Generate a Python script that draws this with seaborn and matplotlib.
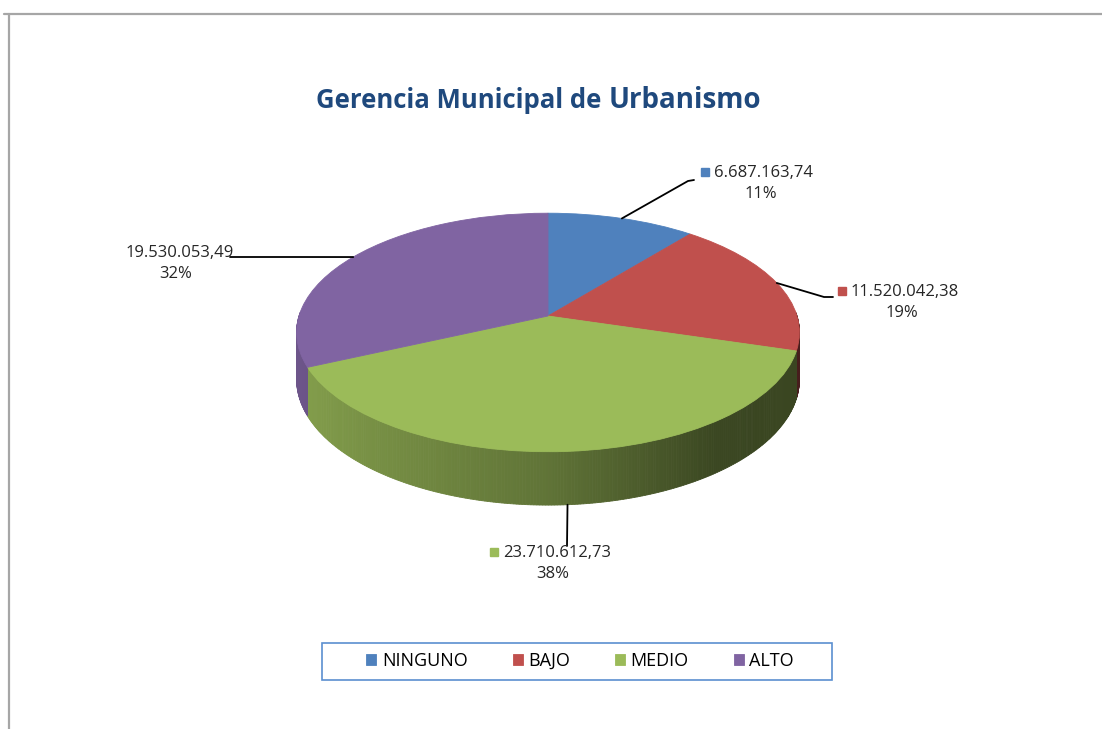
import numpy as np
import matplotlib
matplotlib.use("Agg")
import matplotlib.pyplot as plt
import matplotlib.transforms as mtransforms
from matplotlib.patches import Rectangle
import seaborn as sns

# data
categories = ["NINGUNO", "BAJO", "MEDIO", "ALTO"]
amounts = [6687163.74, 11520042.38, 23710612.73, 19530053.49]
pct_labels = ["11%", "19%", "38%", "32%"]
colors = ["#4F81BD", "#C0504D", "#9BBB59", "#8064A2"]
title_a = "Gerencia Municipal de"
title_b = "Urbanismo"

# canvas in pixels, pie geometry (top face of the tilted disc)
W, H = 1102, 729
CX, CY = 548, 316
RX, RY = 249, 117
TILT = 0.138
DEPTH = 46

sns.set_style("white")
plt.rcParams["font.family"] = ["Open Sans", "DejaVu Sans"]
TXT = "#262626"


def es_fmt(v):
    s = f"{v:,.2f}"
    return s.replace(",", "X").replace(".", ",").replace("X", ".")


def project(u, v):
    """unit-circle pie coords -> pixel coords with a bit of perspective"""
    u = np.asarray(u, float)
    v = np.asarray(v, float)
    w = 1.0 / (1.0 + TILT * v)
    return CX + RX * u * w, CY - RY * v * w, w


class Tilted(mtransforms.Transform):
    input_dims = 2
    output_dims = 2
    is_separable = False
    has_inverse = False

    def transform_non_affine(self, values):
        values = np.asarray(values, float)
        x, y, _ = project(values[:, 0], values[:, 1])
        return np.column_stack([x, y])


fig = plt.figure(figsize=(W / 100, H / 100), dpi=100)
ax = fig.add_axes([0, 0, 1, 1])

wedges, _ = ax.pie(amounts, colors=colors, startangle=90, counterclock=False,
                   radius=1, center=(0, 0), wedgeprops=dict(linewidth=0.6))
tilt = Tilted()
for w in wedges:
    w.set_transform(tilt + ax.transData)
    w.set_edgecolor(w.get_facecolor())
    w.set_zorder(3)

ax.set_aspect("auto")
ax.set_xlim(0, W)
ax.set_ylim(H, 0)
ax.axis("off")

# side wall of the disc, shaded darker towards the right
for w, col in zip(wedges, colors):
    base = np.array(matplotlib.colors.to_rgb(col))
    ang = np.radians(np.linspace(w.theta1, w.theta2, 240))
    for a0, a1 in zip(ang[:-1], ang[1:]):
        mid = 0.5 * (a0 + a1)
        if np.sin(mid) > 0.03:
            continue
        x0, y0, w0 = project(np.cos(a0), np.sin(a0))
        x1, y1, w1 = project(np.cos(a1), np.sin(a1))
        t = (np.cos(mid) + 1) / 2
        shade = np.interp(t, [0, 0.5, 0.8, 1], [0.86, 0.62, 0.38, 0.37])
        c = base * shade
        ax.fill([x0, x1, x1, x0], [y0, y1, y1 + DEPTH * w1, y0 + DEPTH * w0],
                color=c, lw=0.6, ec=c, zorder=2)

# data labels with leader lines
value_left = [714, 851, 503, 126]
pct_center = [761, 902, 553, 176]
label_y = [173, 292, 553, 253]
show_key = [True, True, True, False]
leader_pts = [[(688, 181), (694, 180)], [(824, 297), (833, 297)],
              [(567, 546)], [(290, 257), (230, 257)]]

for i, w in enumerate(wedges):
    mid = np.radians(0.5 * (w.theta1 + w.theta2))
    ax_, ay_, ww = project(np.cos(mid), np.sin(mid))
    if np.sin(mid) < -0.9:
        ay_ = ay_ + DEPTH * ww
    xs = [ax_] + [p[0] for p in leader_pts[i]]
    ys = [ay_] + [p[1] for p in leader_pts[i]]
    ax.plot(xs, ys, color="black", lw=1.3, zorder=4)
    ax.text(value_left[i], label_y[i], es_fmt(amounts[i]), ha="left", va="center",
            fontsize=12, color=TXT, zorder=5)
    ax.text(pct_center[i], label_y[i] + 21, pct_labels[i], ha="center", va="center",
            fontsize=12, color=TXT, zorder=5)
    if show_key[i]:
        ax.plot(value_left[i] - 9, label_y[i] - 1, marker="s", ms=6.3,
                color=colors[i], mec=colors[i], zorder=5)

# title
ax.text(316, 108, title_a, ha="left", va="baseline", fontsize=18.5,
        fontweight="bold", color="#1F497D")
ax.text(609, 108, title_b, ha="left", va="baseline", fontsize=20,
        fontweight="bold", color="#1F497D")

# legend
ax.add_patch(Rectangle((322, 643), 510, 37, fill=False, ec="#5B8FD0", lw=1.2, zorder=4))
ax.legend(wedges, categories, loc="center", bbox_to_anchor=(580, 661),
          bbox_transform=ax.transData, ncol=4, frameon=False,
          handlelength=0.55, handleheight=0.55, handletextpad=0.3,
          columnspacing=2.5, prop=dict(size=13), labelcolor="black")

# outer chart border
ax.plot([4, W], [14, 14], color="#A6A6A6", lw=1.6, zorder=1)
ax.plot([9, 9], [14, H], color="#A6A6A6", lw=1.6, zorder=1)

fig.savefig("out.png", dpi=100)
